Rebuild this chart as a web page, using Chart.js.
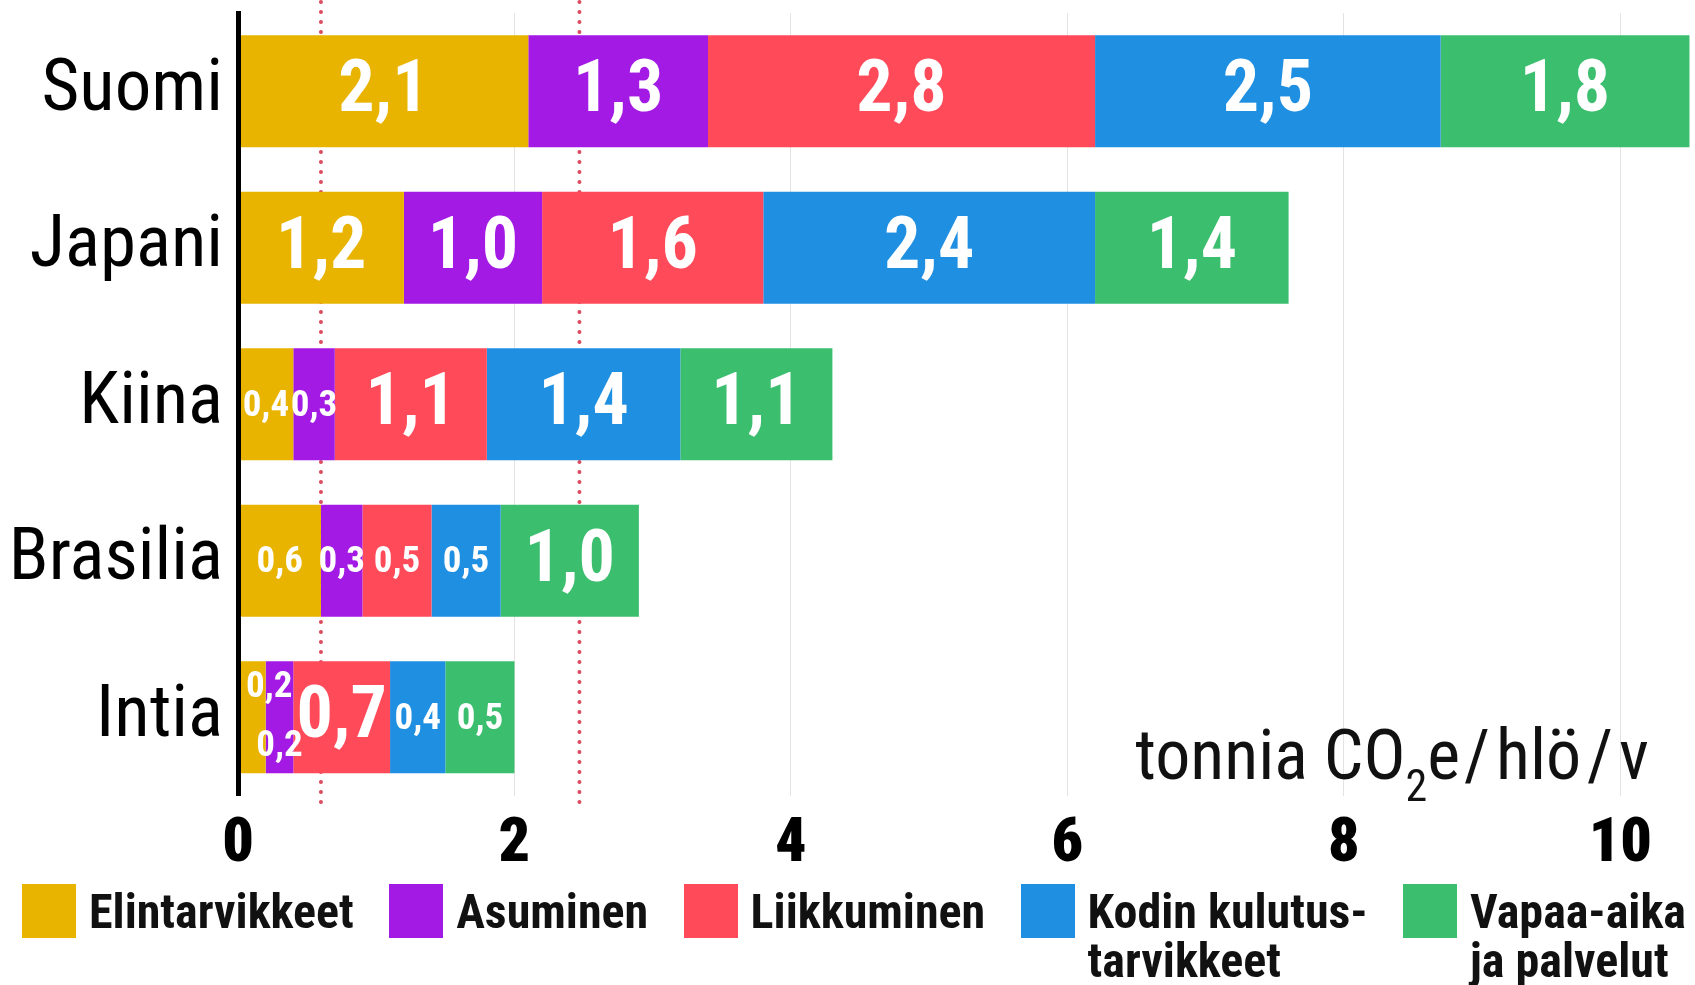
<!DOCTYPE html>
<html lang="fi">
<head>
<meta charset="utf-8">
<title>Hiilijalanjälki maittain</title>
<script src="https://cdn.jsdelivr.net/npm/chart.js@4.4.1/dist/chart.umd.min.js"></script>
<style>
  html, body { margin: 0; padding: 0; background: #fff; }
  #wrap { position: relative; width: 1695px; height: 985px; overflow: hidden; }
  #chartBox { position: absolute; left: 0; top: 0; width: 1695px; height: 896px; }
  #legend {
    position: absolute; left: 22px; right: 9px; top: 884px;
    display: flex; justify-content: space-between;
  }
  .item { display: flex; align-items: flex-start; }
  .swatch { width: 54px; height: 54px; margin-right: 13px; flex: none; }
  .label {
    font-family: 'Roboto Condensed', Roboto, sans-serif;
    font-weight: bold; font-size: 48px; line-height: 49px;
    margin-top: 3px; color: #111; white-space: pre;
  }
</style>
</head>
<body>
<div id="wrap">
  <div id="chartBox"><canvas id="chart"></canvas></div>
  <div id="legend"></div>
</div>
<script>
// ===== Data =====

const countries = ["Suomi", "Japani", "Kiina", "Brasilia", "Intia"];
const categories = ["Elintarvikkeet", "Asuminen", "Liikkuminen", "Kodin kulutus-\ntarvikkeet", "Vapaa-aika\nja palvelut"];

const food      = [2.1, 1.2, 0.4, 0.6, 0.2];
const housing   = [1.3, 1.0, 0.3, 0.3, 0.2];
const transport = [2.8, 1.6, 1.1, 0.5, 0.7];
const goods     = [2.5, 2.4, 1.4, 0.5, 0.4];
const leisure   = [1.8, 1.4, 1.1, 1.0, 0.5];

const xTicks = [0, 2, 4, 6, 8, 10];
const targetLines = [0.6, 2.47];   // red dotted reference lines

const colors = ["#E8B400", "#A21AE4", "#FF4A5A", "#1F8FE2", "#3CBE6F"];

const COND = "'Roboto Condensed', Roboto, sans-serif";

// ===== Legend (HTML) =====

const legendEl = document.getElementById("legend");
categories.forEach((cat, i) => {
  const item = document.createElement("div");
  item.className = "item";
  item.innerHTML = `<div class="swatch" style="background:${colors[i]}"></div><div class="label"></div>`;
  item.querySelector(".label").textContent = cat;
  legendEl.appendChild(item);
});

// ===== Plugins =====

// dotted target lines, drawn behind the bars
const targetLinePlugin = {
  id: "targetLines",
  beforeDatasetsDraw(chart) {
    const { ctx, chartArea, scales } = chart;
    ctx.save();
    ctx.strokeStyle = "#DB4A5E";
    ctx.lineWidth = 4;
    ctx.lineCap = "round";
    ctx.setLineDash([0, 10]);
    targetLines.forEach(v => {
      const x = scales.x.getPixelForValue(v);
      ctx.beginPath();
      ctx.moveTo(x, chartArea.top - 11);
      ctx.lineTo(x, chartArea.bottom + 10);
      ctx.stroke();
    });
    ctx.restore();
  }
};

// value labels inside the segments
const valueLabelPlugin = {
  id: "valueLabels",
  afterDatasetsDraw(chart) {
    const { ctx, chartArea } = chart;
    const stagger = {};
    ctx.save();
    ctx.fillStyle = "#fff";
    ctx.textAlign = "center";
    ctx.textBaseline = "middle";
    chart.data.datasets.forEach((ds, di) => {
      const meta = chart.getDatasetMeta(di);
      meta.data.forEach((bar, i) => {
        const v = ds.data[i];
        const text = v.toFixed(1).replace(".", ",");
        const size = v >= 0.7 ? 72 : 37;
        ctx.font = `bold ${size}px ${COND}`;
        const tw = ctx.measureText(text).width;
        const left = Math.min(bar.base, bar.x);
        const w = Math.abs(bar.x - bar.base);
        let x = left + w / 2;
        let y = bar.y + 2;
        if (tw > w + 10) {
          // too narrow: alternate above / below the middle
          const n = stagger[i] = (stagger[i] || 0) + 1;
          y = bar.y + (n % 2 ? -1 : 1) * bar.height * 0.26;
          x = Math.max(x, chartArea.left + 8 + tw / 2);
        }
        ctx.fillText(text, x, y);
      });
    });
    ctx.restore();
  }
};

// unit text in the lower right corner of the plot
const unitPlugin = {
  id: "unitText",
  afterDatasetsDraw(chart) {
    const { ctx, chartArea } = chart;
    const big = `70px ${COND}`;
    const small = `44px ${COND}`;
    const parts = [
      { t: "tonnia CO", f: big, dy: 0, gap: 0 },
      { t: "2", f: small, dy: 22, gap: 0 },
      { t: "e", f: big, dy: 0, gap: 4 },
      { t: "/", f: big, dy: 0, gap: 6 },
      { t: "hlö", f: big, dy: 0, gap: 6 },
      { t: "/", f: big, dy: 0, gap: 6 },
      { t: "v", f: big, dy: 0, gap: 0 }
    ];
    ctx.save();
    ctx.fillStyle = "#111";
    ctx.textBaseline = "alphabetic";
    ctx.textAlign = "left";
    let total = 0;
    parts.forEach(p => { ctx.font = p.f; p.w = ctx.measureText(p.t).width; total += p.w + p.gap; });
    let x = chartArea.right - 46 - total;
    const base = chartArea.bottom - 17;
    parts.forEach(p => {
      ctx.font = p.f;
      ctx.fillText(p.t, x, base + p.dy);
      x += p.w + p.gap;
    });
    ctx.restore();
  }
};

// ===== Chart =====

const series = [food, housing, transport, goods, leisure];

new Chart(document.getElementById("chart"), {
  type: "bar",
  data: {
    labels: countries,
    datasets: series.map((d, i) => ({
      label: categories[i].replace("\n", " "),
      data: d,
      backgroundColor: colors[i],
      borderWidth: 0,
      categoryPercentage: 0.716,
      barPercentage: 1
    }))
  },
  options: {
    indexAxis: "y",
    responsive: true,
    maintainAspectRatio: false,
    animation: false,
    devicePixelRatio: 1,
    layout: { padding: { top: 13, right: 0, bottom: 0, left: 0 } },
    plugins: {
      legend: { display: false },
      tooltip: { enabled: false }
    },
    scales: {
      x: {
        stacked: true,
        min: 0,
        max: 10.54,
        afterBuildTicks: scale => { scale.ticks = xTicks.map(v => ({ value: v })); },
        grid: {
          color: c => (c.tick && c.tick.value === 0 ? "rgba(0,0,0,0)" : "#e3e3e3"),
          lineWidth: 1,
          drawTicks: false
        },
        border: { display: false },
        ticks: {
          color: "#000",
          padding: 13,
          maxRotation: 0,
          font: { family: COND, weight: "900", size: 62 }
        }
      },
      y: {
        stacked: true,
        afterFit: scale => {
          scale.width = 238;
          scale.paddingTop = 0;
          scale.paddingBottom = 0;
        },
        grid: { display: false },
        border: { display: true, color: "#000", width: 5, z: 1 },
        ticks: {
          color: "#000",
          padding: 7,
          font: { family: COND, size: 73 }
        }
      }
    }
  },
  plugins: [targetLinePlugin, valueLabelPlugin, unitPlugin]
});
</script>
</body>
</html>
